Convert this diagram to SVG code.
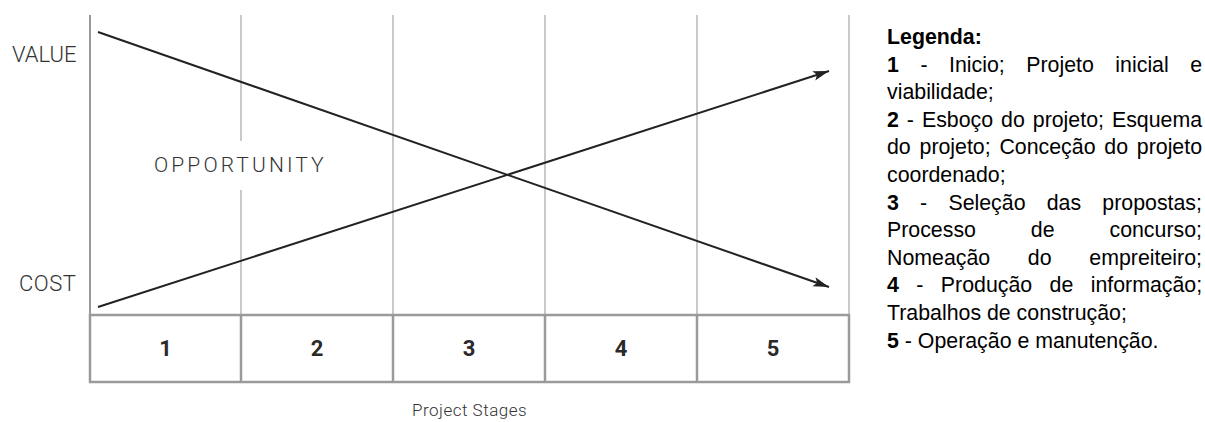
<svg xmlns="http://www.w3.org/2000/svg" width="1205" height="422" viewBox="0 0 1205 422">
  <style>
    .axis { stroke: #9a9a9a; stroke-width: 2; fill: none; }
    .grid { stroke: #c9c9c9; stroke-width: 2; fill: none; }
    .tbl { stroke: #9a9a9a; stroke-width: 2.5; fill: none; }
    .trend { stroke: #222; stroke-width: 2; fill: none; }
    .lbl { font-family: Roboto, "Liberation Sans", sans-serif; font-weight: 300; fill: #333; }
    .num { font-family: Roboto, "Liberation Sans", sans-serif; font-weight: 700; font-size: 22px; fill: #2a2a2a; text-anchor: middle; }
    .leg { font-family: "Liberation Sans", Arial, sans-serif; font-size: 21.33px; fill: #000; }
    .b { font-weight: bold; }
  </style>
  <defs>
    <marker id="arrow" markerUnits="userSpaceOnUse" markerWidth="18" markerHeight="12" refX="16" refY="6" orient="auto">
      <path d="M0,1.2 L16,6 L0,10.8 L3.5,6 Z" fill="#222"/>
    </marker>
  </defs>

  <g id="grid">
    <line class="grid" x1="241" y1="15" x2="241" y2="141"/>
    <line class="grid" x1="241" y1="190" x2="241" y2="315"/>
    <line class="grid" x1="393" y1="15" x2="393" y2="315"/>
    <line class="grid" x1="545" y1="15" x2="545" y2="315"/>
    <line class="grid" x1="697" y1="15" x2="697" y2="315"/>
    <line class="grid" x1="849" y1="15" x2="849" y2="315"/>
    <line class="axis" x1="90" y1="15" x2="90" y2="382"/>
  </g>

  <g id="stages-table">
    <rect class="tbl" x="90" y="315" width="759" height="67"/>
    <line class="tbl" x1="241" y1="315" x2="241" y2="382"/>
    <line class="tbl" x1="393" y1="315" x2="393" y2="382"/>
    <line class="tbl" x1="545" y1="315" x2="545" y2="382"/>
    <line class="tbl" x1="697" y1="315" x2="697" y2="382"/>
    <text class="num" x="165.5" y="356">1</text>
    <text class="num" x="317" y="356">2</text>
    <text class="num" x="469" y="356">3</text>
    <text class="num" x="621" y="356">4</text>
    <text class="num" x="773" y="356">5</text>
  </g>

  <g id="connectors">
    <line id="value-line" class="trend" x1="98" y1="32" x2="829" y2="287" marker-end="url(#arrow)"/>
    <line id="cost-line" class="trend" x1="98" y1="307" x2="829" y2="71" marker-end="url(#arrow)"/>
  </g>

  <g id="labels">
    <text class="lbl" x="12" y="62" font-size="22">VALUE</text>
    <text class="lbl" x="19" y="291" font-size="22" letter-spacing="0.5">COST</text>
    <text class="lbl" x="154" y="172" font-size="21" letter-spacing="3.1">OPPORTUNITY</text>
    <text class="lbl" x="412" y="416" font-size="17" letter-spacing="0.5">Project Stages</text>
  </g>

  <g id="legend">
    <text class="leg b" x="887" y="44">Legenda:</text>
    <text class="leg" x="887" y="71.6" word-spacing="15.6"><tspan class="b">1</tspan> - Inicio; Projeto inicial e</text>
    <text class="leg" x="887" y="99.2">viabilidade;</text>
    <text class="leg" x="887" y="126.8" word-spacing="2.06"><tspan class="b">2</tspan> - Esboço do projeto; Esquema</text>
    <text class="leg" x="887" y="154.4" word-spacing="2.87">do projeto; Conceção do projeto</text>
    <text class="leg" x="887" y="182">coordenado;</text>
    <text class="leg" x="887" y="209.6" word-spacing="15.3"><tspan class="b">3</tspan> - Seleção das propostas;</text>
    <text class="leg" x="887" y="237.2" word-spacing="49">Processo de concurso;</text>
    <text class="leg" x="887" y="264.8" word-spacing="31.8">Nomeação do empreiteiro;</text>
    <text class="leg" x="887" y="292.4" word-spacing="11.5"><tspan class="b">4</tspan> - Produção de informação;</text>
    <text class="leg" x="887" y="320">Trabalhos de construção;</text>
    <text class="leg" x="887" y="347.6"><tspan class="b">5</tspan> - Operação e manutenção.</text>
  </g>
</svg>
